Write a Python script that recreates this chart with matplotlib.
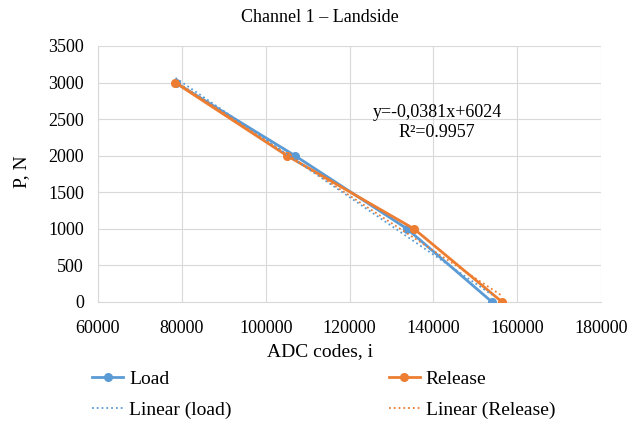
import numpy as np
import matplotlib
matplotlib.use("Agg")
import matplotlib.pyplot as plt

plt.rcParams['font.family'] = ['Liberation Serif', 'DejaVu Serif']

# dados
load_x = [78500, 107000, 133750, 154000]
load_p = [3000, 2000, 1000, 0]
release_x = [78400, 105100, 135400, 156400]
release_p = [3000, 2000, 1000, 0]

azul = '#5B9BD5'
laranja = '#ED7D31'

fig = plt.figure(figsize=(6.33, 4.29), dpi=100)
ax = fig.add_axes([98/633, 1 - 302/429, (601-98)/633, (302-46)/429])

ax.plot(load_x, load_p, color=azul, marker='o', markersize=5.5, linewidth=2, label='Load', zorder=3)
ax.plot(release_x, release_p, color=laranja, marker='o', markersize=5.5, linewidth=2, label='Release', zorder=3)

# linhas de tendência (ajuste linear)
for xs, ps, cor, nome in [(load_x, load_p, azul, 'Linear (load)'),
                          (release_x, release_p, laranja, 'Linear (Release)')]:
    k, b = np.polyfit(xs, ps, 1)
    xx = np.array([min(xs), max(xs)])
    ax.plot(xx, k*xx + b, color=cor, linestyle=':', linewidth=1.3, label=nome, zorder=4)

ax.set_xlim(60000, 180000)
ax.set_ylim(0, 3500)
ax.set_xticks(np.arange(60000, 180001, 20000))
ax.set_yticks(np.arange(0, 3501, 500))
ax.grid(True, color='#D9D9D9', linewidth=0.8)
ax.set_axisbelow(True)
for s in ['top', 'right']:
    ax.spines[s].set_visible(False)
ax.spines['left'].set_color('#D9D9D9')
ax.spines['bottom'].set_color('#D9D9D9')
ax.tick_params(length=0, labelsize=13)
ax.tick_params(axis='x', pad=13)
ax.tick_params(axis='y', pad=10)

ax.text(0.674, 0.742, 'y=-0,0381x+6024', transform=ax.transAxes, ha='center', va='center', fontsize=13)
ax.text(0.674, 0.664, 'R²=0.9957', transform=ax.transAxes, ha='center', va='center', fontsize=13)

fig.text(0.505, 1 - 18/429, 'Channel 1 – Landside', ha='center', va='center', fontsize=13)
fig.text(0.505, 1 - 352/429, 'ADC codes, i', ha='center', va='center', fontsize=14)
fig.text(22/633, 1 - 172/429, 'P, N', ha='center', va='center', rotation=90, fontsize=14)

h, l = ax.get_legend_handles_labels()
ordem = [0, 2, 1, 3]
fig.legend([h[i] for i in ordem], [l[i] for i in ordem], ncol=2, loc='upper left',
           bbox_to_anchor=(92/633, 1 - 370/429), frameon=False,
           prop={'family': 'Liberation Serif', 'size': 14},
           columnspacing=8.1, handlelength=1.6, handletextpad=0.3, labelspacing=0.68,
           borderaxespad=0, borderpad=0)

fig.savefig('out.png', dpi=100)
